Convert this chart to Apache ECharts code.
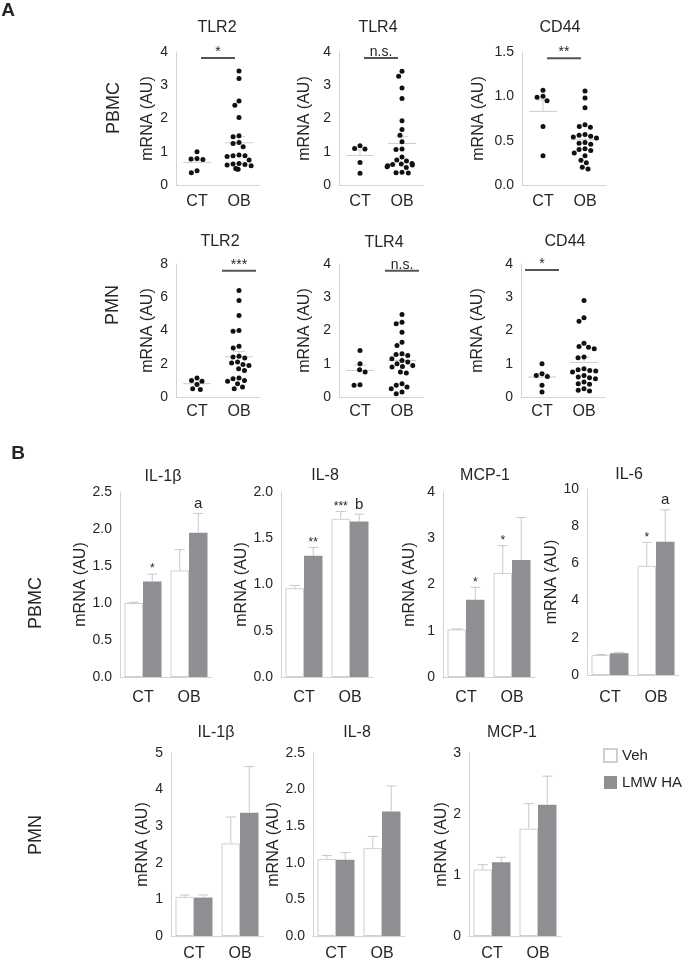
<!DOCTYPE html>
<html><head><meta charset="utf-8">
<script src="https://cdn.jsdelivr.net/npm/echarts@6/dist/echarts.min.js"></script>
<style>html,body{margin:0;padding:0;background:#fff}#c{width:685px;height:962px}</style>
</head><body><div id="c"></div><script>
const groups = ['CT', 'OB'];

// ---- Panel A, PBMC (scatter) ----
const tlr2PbmcCT = [1.0, 0.8, 0.78, 0.77, 0.43, 0.37];
const tlr2PbmcOB = [3.43, 3.2, 2.53, 2.4, 2.03, 1.48, 1.45, 1.28, 1.25, 1.15, 0.9, 0.88, 0.88, 0.86, 0.75, 0.65, 0.63, 0.62, 0.6, 0.58, 0.5, 0.48, 0.47];
const tlr2PbmcMean = [0.68, 1.27], tlr2PbmcSem = [0.74, 1.45];
const tlr4PbmcCT = [1.18, 1.1, 1.08, 0.68, 0.35];
const tlr4PbmcOB = [3.42, 3.27, 2.92, 2.6, 1.93, 1.67, 1.5, 1.3, 1.08, 1.07, 0.84, 0.75, 0.72, 0.65, 0.63, 0.62, 0.6, 0.58, 0.55, 0.53, 0.38, 0.37, 0.36];
const tlr4PbmcMean = [0.89, 1.25], tlr4PbmcSem = [1.05, 1.45];
const cd44PbmcCT = [1.07, 1.0, 0.99, 0.95, 0.66, 0.33];
const cd44PbmcOB = [1.06, 0.98, 0.87, 0.68, 0.66, 0.65, 0.57, 0.56, 0.55, 0.54, 0.53, 0.48, 0.47, 0.46, 0.41, 0.4, 0.39, 0.36, 0.33, 0.28, 0.25, 0.2, 0.18];
const cd44PbmcMean = [0.83, 0.51], cd44PbmcSem = [0.96, 0.56];

// ---- Panel A, PMN (scatter) ----
const tlr2PmnCT = [1.15, 1.0, 0.95, 0.75, 0.5, 0.45];
const tlr2PmnOB = [6.4, 5.8, 4.9, 4.0, 3.95, 3.05, 2.95, 2.45, 2.4, 2.35, 2.1, 2.05, 1.95, 1.9, 1.7, 1.6, 1.15, 1.1, 1.0, 0.95, 0.8, 0.6, 0.5];
const tlr2PmnMean = [0.8, 2.42], tlr2PmnSem = [0.9, 2.73];
const tlr4PmnCT = [1.4, 1.0, 0.82, 0.75, 0.37, 0.35];
const tlr4PmnOB = [2.48, 2.25, 2.2, 1.95, 1.65, 1.55, 1.3, 1.28, 1.25, 1.15, 1.1, 1.05, 1.0, 0.95, 0.92, 0.9, 0.75, 0.72, 0.4, 0.35, 0.3, 0.25, 0.15, 0.1];
const tlr4PmnMean = [0.8, 1.1], tlr4PmnSem = [0.96, 1.25];
const cd44PmnCT = [1.0, 0.7, 0.65, 0.62, 0.35, 0.15];
const cd44PmnOB = [2.9, 2.38, 2.28, 1.62, 1.52, 1.5, 1.45, 1.2, 1.18, 0.85, 0.82, 0.8, 0.78, 0.75, 0.65, 0.6, 0.58, 0.55, 0.45, 0.4, 0.38, 0.25, 0.2, 0.18];
const cd44PmnMean = [0.6, 1.04], cd44PmnSem = [0.7, 1.2];

// significance annotations: [span, level, text]
const sigTlr2Pbmc = ['both', 3.82, '*'];
const sigTlr4Pbmc = ['both', 3.82, 'n.s.'];
const sigCd44Pbmc = ['both', 1.43, '**'];
const sigTlr2Pmn = ['OB', 7.6, '***'];
const sigTlr4Pmn = ['OB', 3.8, 'n.s.'];
const sigCd44Pmn = ['CT', 3.82, '*'];

// ---- Panel B, PBMC (bars) ----
const il1bPbmcVeh = [1.0, 1.44], il1bPbmcVehErr = [1.01, 1.72], il1bPbmcHA = [1.29, 1.95], il1bPbmcHAErr = [1.39, 2.21];
const il1bPbmcVehMark = ['', ''], il1bPbmcHAMark = ['*', 'a'];
const il8PbmcVeh = [0.96, 1.71], il8PbmcVehErr = [0.99, 1.79], il8PbmcHA = [1.31, 1.68], il8PbmcHAErr = [1.40, 1.76];
const il8PbmcVehMark = ['', '***'], il8PbmcHAMark = ['**', 'b'];
const mcpPbmcVeh = [1.03, 2.25], mcpPbmcVehErr = [1.04, 2.84], mcpPbmcHA = [1.67, 2.53], mcpPbmcHAErr = [1.94, 3.45];
const mcpPbmcVehMark = ['', '*'], mcpPbmcHAMark = ['*', ''];
const il6PbmcVeh = [1.08, 5.87], il6PbmcVehErr = [1.1, 7.13], il6PbmcHA = [1.17, 7.16], il6PbmcHAErr = [1.22, 8.88];
const il6PbmcVehMark = ['', '*'], il6PbmcHAMark = ['', 'a'];

// ---- Panel B, PMN (bars) ----
const il1bPmnVeh = [1.07, 2.53], il1bPmnVehErr = [1.12, 3.25], il1bPmnHA = [1.05, 3.37], il1bPmnHAErr = [1.12, 4.63];
const il8PmnVeh = [1.05, 1.2], il8PmnVehErr = [1.1, 1.36], il8PmnHA = [1.04, 1.70], il8PmnHAErr = [1.14, 2.05];
const mcpPmnVeh = [1.09, 1.76], mcpPmnVehErr = [1.17, 2.17], mcpPmnHA = [1.21, 2.15], mcpPmnHAErr = [1.29, 2.62];
const noMark = ['', ''];

const FONT = '"Liberation Sans", Arial, sans-serif';
const TXT = '#262626';
const AXIS = '#d4d4d4';
const BAR_W = 18.5;

const grids = [], xAxis = [], yAxis = [], series = [], graphics = [];

function txt(text, x, y, size, rot, bold) {
  return { type: 'text', x: x, y: y, rotation: rot || 0, silent: true,
    style: { text: text, fill: TXT, font: (bold ? 'bold ' : '') + size + 'px ' + FONT, align: 'center', verticalAlign: 'middle' } };
}

function axes(i, p, jitter) {
  xAxis.push({ type: 'category', gridIndex: i, data: groups,
    axisLine: { lineStyle: { color: AXIS, width: 1 } }, axisTick: { show: false },
    axisLabel: { color: TXT, fontSize: 16, fontFamily: FONT, margin: p.lm },
    jitter: jitter, jitterOverlap: false, jitterMargin: 1 });
  yAxis.push({ type: 'value', gridIndex: i, min: 0, max: p.max, interval: p.int,
    name: 'mRNA (AU)', nameLocation: 'middle', nameGap: p.ng,
    nameTextStyle: { color: TXT, fontSize: 16, fontFamily: FONT },
    axisLine: { show: true, lineStyle: { color: AXIS, width: 1 } }, axisTick: { show: false }, splitLine: { show: false },
    axisLabel: { color: TXT, fontSize: 14, fontFamily: FONT, margin: 8,
      formatter: function (v) { return p.dec ? v.toFixed(p.dec) : String(v); } } });
}

function scatterPanel(p) {
  const i = grids.length;
  grids.push({ left: p.left, top: p.top, width: 84, height: 133 });
  axes(i, p, 30);
  graphics.push(txt(p.title, p.tx, p.ty, 16));
  const pts = p.ct.map(function (v) { return ['CT', v]; }).concat(p.ob.map(function (v) { return ['OB', v]; }));
  series.push({ type: 'scatter', name: 'pts' + i, xAxisIndex: i, yAxisIndex: i, data: pts, symbolSize: 5,
    itemStyle: { color: '#111', opacity: 1 }, silent: true, z: 3, animation: false });
  series.push({ type: 'custom', name: 'mean' + i, xAxisIndex: i, yAxisIndex: i, silent: true, z: 2,
    data: [[0, p.mean[0], p.sem[0]], [1, p.mean[1], p.sem[1]]],
    renderItem: function (params, api) {
      const c = api.coord([api.value(0), api.value(1)]);
      const t = api.coord([api.value(0), api.value(2)]);
      const st = { stroke: '#cdcdcd', lineWidth: 1 };
      return { type: 'group', children: [
        { type: 'line', shape: { x1: c[0] - 14, y1: c[1], x2: c[0] + 14, y2: c[1] }, style: st },
        { type: 'line', shape: { x1: c[0], y1: c[1], x2: t[0], y2: t[1] }, style: st },
        { type: 'line', shape: { x1: t[0] - 6, y1: t[1], x2: t[0] + 6, y2: t[1] }, style: st }] };
    } });
  const sig = p.sig;
  series.push({ type: 'custom', name: 'sig' + i, xAxisIndex: i, yAxisIndex: i, silent: true, z: 2,
    data: [[0, sig[1]]],
    renderItem: function (params, api) {
      const a = api.coord([0, api.value(1)]), b = api.coord([1, api.value(1)]);
      const cx = sig[0] === 'CT' ? a[0] : sig[0] === 'OB' ? b[0] : (a[0] + b[0]) / 2;
      const y = a[1];
      return { type: 'group', children: [
        { type: 'line', shape: { x1: cx - 17, y1: y, x2: cx + 17, y2: y }, style: { stroke: '#555', lineWidth: 2 } },
        { type: 'text', x: cx, y: y + 1, style: { text: sig[2], fill: TXT, font: '14px ' + FONT, align: 'center', verticalAlign: 'bottom' } }] };
    } });
}

function barPanel(p) {
  const i = grids.length;
  grids.push({ left: p.left, top: p.top, width: 92, height: p.h });
  axes(i, p, 0);
  graphics.push(txt(p.title, p.tx, p.ty, 16));
  series.push({ type: 'bar', name: 'Veh', xAxisIndex: i, yAxisIndex: i, data: p.veh, barWidth: BAR_W, barGap: '0%',
    itemStyle: { color: '#ffffff', borderColor: '#cfcfcf', borderWidth: 1 }, silent: true, z: 2 });
  series.push({ type: 'bar', name: 'LMW HA', xAxisIndex: i, yAxisIndex: i, data: p.ha, barWidth: BAR_W, barGap: '0%',
    itemStyle: { color: '#8e8f92' }, silent: true, z: 2 });
  const ed = [];
  for (let k = 0; k < 2; k++) {
    ed.push([k, 0, p.veh[k], p.vehErr[k]]);
    ed.push([k, 1, p.ha[k], p.haErr[k]]);
  }
  series.push({ type: 'custom', name: 'err' + i, xAxisIndex: i, yAxisIndex: i, silent: true, z: 3, data: ed,
    renderItem: function (params, api) {
      const k = api.value(0), s = api.value(1);
      const top = api.coord([k, api.value(2)]), e = api.coord([k, api.value(3)]);
      const x = top[0] + (s === 0 ? -BAR_W / 2 : BAR_W / 2);
      const st = { stroke: '#c8c8c8', lineWidth: 1 };
      const mark = (s === 0 ? p.vehMark : p.haMark)[k];
      const ch = [
        { type: 'line', shape: { x1: x, y1: top[1], x2: x, y2: e[1] }, style: st },
        { type: 'line', shape: { x1: x - 5, y1: e[1], x2: x + 5, y2: e[1] }, style: st }];
      if (mark) {
        const star = mark.charAt(0) === '*';
        ch.push({ type: 'text', x: x, y: star ? e[1] + 1 : e[1] - 2,
          style: { text: mark, fill: TXT, font: (star ? '12px ' : '15px ') + FONT, align: 'center', verticalAlign: 'bottom' } });
      }
      return { type: 'group', children: ch };
    } });
}

// Panel A
scatterPanel({ left: 176, top: 52, max: 4, int: 1, ng: 20, lm: 9, title: 'TLR2', tx: 217, ty: 28,
  ct: tlr2PbmcCT, ob: tlr2PbmcOB, mean: tlr2PbmcMean, sem: tlr2PbmcSem, sig: sigTlr2Pbmc });
scatterPanel({ left: 339, top: 52, max: 4, int: 1, ng: 26, lm: 9, title: 'TLR4', tx: 378, ty: 28,
  ct: tlr4PbmcCT, ob: tlr4PbmcOB, mean: tlr4PbmcMean, sem: tlr4PbmcSem, sig: sigTlr4Pbmc });
scatterPanel({ left: 522, top: 52, max: 1.5, int: 0.5, dec: 1, ng: 35, lm: 9, title: 'CD44', tx: 560, ty: 28,
  ct: cd44PbmcCT, ob: cd44PbmcOB, mean: cd44PbmcMean, sem: cd44PbmcSem, sig: sigCd44Pbmc });
scatterPanel({ left: 176, top: 264, max: 8, int: 2, ng: 20, lm: 7, title: 'TLR2', tx: 220, ty: 242,
  ct: tlr2PmnCT, ob: tlr2PmnOB, mean: tlr2PmnMean, sem: tlr2PmnSem, sig: sigTlr2Pmn });
scatterPanel({ left: 339, top: 264, max: 4, int: 1, ng: 26, lm: 7, title: 'TLR4', tx: 384, ty: 243,
  ct: tlr4PmnCT, ob: tlr4PmnOB, mean: tlr4PmnMean, sem: tlr4PmnSem, sig: sigTlr4Pmn });
scatterPanel({ left: 521, top: 264, max: 4, int: 1, ng: 35, lm: 7, title: 'CD44', tx: 565, ty: 242,
  ct: cd44PmnCT, ob: cd44PmnOB, mean: cd44PmnMean, sem: cd44PmnSem, sig: sigCd44Pmn });

// Panel B
barPanel({ left: 120, top: 492, h: 185, max: 2.5, int: 0.5, dec: 1, ng: 27, lm: 13, title: 'IL-1β', tx: 163, ty: 477,
  veh: il1bPbmcVeh, vehErr: il1bPbmcVehErr, ha: il1bPbmcHA, haErr: il1bPbmcHAErr, vehMark: il1bPbmcVehMark, haMark: il1bPbmcHAMark });
barPanel({ left: 281, top: 492, h: 185, max: 2, int: 0.5, dec: 1, ng: 28, lm: 13, title: 'IL-8', tx: 325, ty: 476,
  veh: il8PbmcVeh, vehErr: il8PbmcVehErr, ha: il8PbmcHA, haErr: il8PbmcHAErr, vehMark: il8PbmcVehMark, haMark: il8PbmcHAMark });
barPanel({ left: 443, top: 492, h: 185, max: 4, int: 1, ng: 25, lm: 13, title: 'MCP-1', tx: 485, ty: 476,
  veh: mcpPbmcVeh, vehErr: mcpPbmcVehErr, ha: mcpPbmcHA, haErr: mcpPbmcHAErr, vehMark: mcpPbmcVehMark, haMark: mcpPbmcHAMark });
barPanel({ left: 587, top: 489, h: 186, max: 10, int: 2, ng: 21, lm: 15, title: 'IL-6', tx: 629, ty: 475,
  veh: il6PbmcVeh, vehErr: il6PbmcVehErr, ha: il6PbmcHA, haErr: il6PbmcHAErr, vehMark: il6PbmcVehMark, haMark: il6PbmcHAMark });
barPanel({ left: 171, top: 753, h: 185, max: 5, int: 1, ng: 20, lm: 10, title: 'IL-1β', tx: 216, ty: 733,
  veh: il1bPmnVeh, vehErr: il1bPmnVehErr, ha: il1bPmnHA, haErr: il1bPmnHAErr, vehMark: noMark, haMark: noMark });
barPanel({ left: 313, top: 753, h: 185, max: 2.5, int: 0.5, dec: 1, ng: 25, lm: 10, title: 'IL-8', tx: 357, ty: 733,
  veh: il8PmnVeh, vehErr: il8PmnVehErr, ha: il8PmnHA, haErr: il8PmnHAErr, vehMark: noMark, haMark: noMark });
barPanel({ left: 469, top: 753, h: 185, max: 3, int: 1, ng: 18, lm: 10, title: 'MCP-1', tx: 512, ty: 733,
  veh: mcpPmnVeh, vehErr: mcpPmnVehErr, ha: mcpPmnHA, haErr: mcpPmnHAErr, vehMark: noMark, haMark: noMark });

// Panel & row labels
graphics.push(txt('A', 8, 11, 19, 0, true));
graphics.push(txt('B', 18, 454, 19, 0, true));
graphics.push(txt('PBMC', 114, 108, 18, Math.PI / 2));
graphics.push(txt('PMN', 113, 305, 18, Math.PI / 2));
graphics.push(txt('PBMC', 36, 603, 18, Math.PI / 2));
graphics.push(txt('PMN', 36, 835, 18, Math.PI / 2));

const chart = echarts.init(document.getElementById('c'), null, { renderer: 'canvas' });
chart.setOption({
  backgroundColor: '#ffffff',
  animation: false,
  grid: grids,
  xAxis: xAxis,
  yAxis: yAxis,
  series: series,
  legend: { data: ['Veh', 'LMW HA'], orient: 'vertical', left: 598, top: 743, itemWidth: 13, itemHeight: 13, itemGap: 12,
    icon: 'rect', selectedMode: false, textStyle: { fontSize: 15, fontFamily: FONT, color: TXT } },
  graphic: graphics
});
</script></body></html>
